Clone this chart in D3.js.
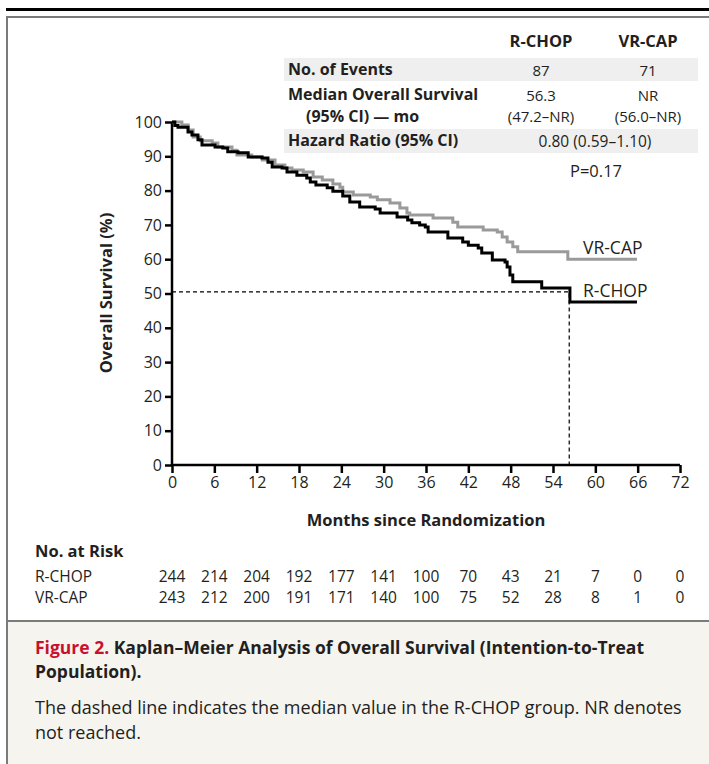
<!DOCTYPE html>
<meta charset="utf-8">
<style>
  body { margin: 0; background: #fff; }
  svg text { font-family: "Open Sans", "Noto Sans", sans-serif; fill: #231f20; }
  .b { font-weight: 700; }
</style>
<body>
<script src="https://d3js.org/d3.v7.min.js"></script>
<script>
  // step curves: [months, % surviving]
  var rchop = [
    [0, 100], [0.4, 99], [0.85, 98.5], [2.27, 97.1], [2.83, 96.2], [3.68, 94.8], [4.25, 93.3],
    [6.1, 92.7], [7.2, 92.4], [7.9, 91.3], [9.35, 91.0], [10.8, 89.8], [12.75, 89.5], [13.6, 88.3],
    [14.2, 86.9], [15.6, 86.6], [16.3, 85.4], [17.7, 84.5], [19.1, 83.7], [19.6, 82.5], [20.4, 81.6],
    [22.0, 80.8], [22.8, 79.8], [24.2, 78.4], [25.2, 76.7], [26.6, 75.2], [28.8, 74.6], [29.5, 73.5],
    [31.9, 72.3], [33.4, 71.4], [34.0, 70.6], [35.1, 70.0], [35.9, 69.4], [36.3, 67.9], [39.1, 66.2],
    [41.2, 65.0], [42.0, 64.1], [43.4, 63.3], [43.9, 61.8], [45.4, 59.8], [47.2, 59.2], [47.5, 57.7],
    [47.9, 55.4], [48.3, 53.4], [52.4, 51.6], [56.4, 47.5], [65.9, 47.5]
  ];
  var vrcap = [
    [0, 100], [1.4, 99.1], [2.3, 97.7], [3.0, 95.6], [4.0, 94.5], [5.7, 93.9], [6.5, 92.7],
    [8.5, 91.8], [9.2, 90.4], [11.3, 89.8], [12.8, 88.9], [14.6, 87.5], [16.0, 86.6], [17.0, 86.0],
    [18.6, 85.4], [20.0, 84.0], [21.3, 83.1], [22.8, 81.9], [23.8, 81.0], [24.2, 79.6], [25.7, 78.7],
    [28.1, 78.1], [29.1, 77.3], [30.9, 76.4], [32.3, 74.9], [33.3, 73.5], [33.7, 72.9], [37.0, 72.0],
    [39.8, 70.8], [40.5, 69.4], [44.1, 68.5], [46.1, 67.9], [46.8, 66.5], [47.5, 65.0], [48.3, 63.6],
    [49.0, 62.2], [56.1, 60.0], [65.9, 60.0]
  ];
  var medianRchop = 56.3, medianLevel = 50.5;

  var riskMonths = [0, 6, 12, 18, 24, 30, 36, 42, 48, 54, 60, 66, 72];
  var riskRchop = [244, 214, 204, 192, 177, 141, 100, 70, 43, 21, 7, 0, 0];
  var riskVrcap = [243, 212, 200, 191, 171, 140, 100, 75, 52, 28, 8, 1, 0];

  var groups = ["R-CHOP", "VR-CAP"];
  var tableRows = [
    { label: ["No. of Events"], vals: [["87"], ["71"]], shade: true },
    { label: ["Median Overall Survival", "(95% CI) \u2014 mo"], vals: [["56.3", "(47.2\u2013NR)"], ["NR", "(56.0\u2013NR)"]], shade: false },
    { label: ["Hazard Ratio (95% CI)"], span: "0.80 (0.59\u20131.10)", shade: true }
  ];
  var pText = "P=0.17";

  var W = 709, H = 764;
  var svg = d3.select("body").append("svg").attr("width", W).attr("height", H);

  // frame
  svg.append("rect").attr("x", 6).attr("y", 8).attr("width", W - 6).attr("height", 3).attr("fill", "#000");
  svg.append("rect").attr("x", 7).attr("y", 17).attr("width", W).attr("height", H).attr("fill", "#fff")
    .attr("stroke", "#7b7b7b").attr("stroke-width", 2);
  svg.append("rect").attr("x", 8).attr("y", 621).attr("width", W).attr("height", H - 621).attr("fill", "#f6f4ef");
  svg.append("line").attr("x1", 7).attr("x2", W).attr("y1", 621).attr("y2", 621)
    .attr("stroke", "#7b7b7b").attr("stroke-width", 2);

  var x = d3.scaleLinear().domain([0, 72]).range([172, 680]);
  var y = d3.scaleLinear().domain([0, 100]).range([465, 122]);

  // axes
  var xAxis = svg.append("g").attr("transform", "translate(0,465)")
    .call(d3.axisBottom(x).tickValues(riskMonths).tickSize(8).tickPadding(4));
  var yAxis = svg.append("g").attr("transform", "translate(172,0)")
    .call(d3.axisLeft(y).tickValues(d3.range(0, 101, 10)).tickSize(7).tickPadding(3));
  [xAxis, yAxis].forEach(function (g) {
    g.select(".domain").attr("stroke", "#000").attr("stroke-width", 2.5);
    g.selectAll(".tick line").attr("stroke", "#000").attr("stroke-width", 2.5);
    g.selectAll(".tick text").style("font-size", "16px").attr("fill", "#231f20");
  });
  xAxis.select(".domain").attr("d", "M172,0H680");
  yAxis.select(".domain").attr("d", "M0,122V465");

  // median dashes
  svg.append("path")
    .attr("d", "M" + x(0) + "," + y(medianLevel) + "H" + x(medianRchop) + "V" + y(0))
    .attr("fill", "none").attr("stroke", "#000").attr("stroke-width", 1.2).attr("stroke-dasharray", "4,3");

  var line = d3.line().x(function (d) { return x(d[0]); }).y(function (d) { return y(d[1]); })
    .curve(d3.curveStepAfter);
  svg.append("path").datum(vrcap).attr("d", line).attr("fill", "none")
    .attr("stroke", "#9a9a9a").attr("stroke-width", 3);
  svg.append("path").datum(rchop).attr("d", line).attr("fill", "none")
    .attr("stroke", "#000").attr("stroke-width", 3);

  svg.append("text").attr("x", 583).attr("y", 254).style("font-size", "17.5px").text("VR-CAP");
  svg.append("text").attr("x", 583).attr("y", 297).style("font-size", "17.5px").text("R-CHOP");

  // axis titles
  svg.append("text").attr("class", "b").attr("transform", "translate(112,293) rotate(-90)")
    .attr("text-anchor", "middle").style("font-size", "16.5px").text("Overall Survival (%)");
  svg.append("text").attr("class", "b").attr("x", 426).attr("y", 526)
    .attr("text-anchor", "middle").style("font-size", "16.5px").text("Months since Randomization");

  // summary table
  var colX = [541, 648];
  svg.selectAll(".hdr").data(groups).enter().append("text").attr("class", "b")
    .attr("x", function (d, i) { return colX[i]; }).attr("y", 47)
    .attr("text-anchor", "middle").style("font-size", "16.5px").text(function (d) { return d; });
  var rowTop = [58, 83, 129], rowH = [23, 45, 24];
  tableRows.forEach(function (r, i) {
    var g = svg.append("g");
    if (r.shade) g.append("rect").attr("x", 284).attr("y", rowTop[i]).attr("width", 414).attr("height", rowH[i]).attr("fill", "#efefef");
    r.label.forEach(function (t, j) {
      g.append("text").attr("class", "b").attr("x", j ? 306 : 288).attr("y", rowTop[i] + 17 + j * 22)
        .style("font-size", "16px").text(t);
    });
    if (r.vals) r.vals.forEach(function (col, c) {
      col.forEach(function (t, j) {
        g.append("text").attr("x", colX[c]).attr("y", rowTop[i] + 18 + j * 21)
          .attr("text-anchor", "middle").style("font-size", "15px").text(t);
      });
    });
    if (r.span) g.append("text").attr("x", 595).attr("y", rowTop[i] + 18)
      .attr("text-anchor", "middle").style("font-size", "15.5px").text(r.span);
  });
  svg.append("text").attr("x", 596).attr("y", 177).attr("text-anchor", "middle")
    .style("font-size", "16.5px").text(pText);

  // number at risk
  svg.append("text").attr("class", "b").attr("x", 35).attr("y", 557).style("font-size", "16.5px").text("No. at Risk");
  [[groups[0], riskRchop, 582], [groups[1], riskVrcap, 603]].forEach(function (r) {
    svg.append("text").attr("x", 35).attr("y", r[2]).style("font-size", "15.5px").text(r[0]);
    svg.selectAll(null).data(r[1]).enter().append("text")
      .attr("x", function (d, i) { return x(riskMonths[i]); }).attr("y", r[2])
      .attr("text-anchor", "middle").style("font-size", "15.5px").text(function (d) { return d; });
  });

  // caption
  var cap = svg.append("text").attr("class", "b").attr("x", 35).attr("y", 654).style("font-size", "17.5px");
  cap.append("tspan").style("fill", "#c8102e").text("Figure 2. ");
  cap.append("tspan").text("Kaplan\u2013Meier Analysis of Overall Survival (Intention-to-Treat");
  svg.append("text").attr("class", "b").attr("x", 35).attr("y", 678).style("font-size", "17.5px").text("Population).");
  svg.append("text").attr("x", 35).attr("y", 714).style("font-size", "18px")
    .text("The dashed line indicates the median value in the R-CHOP group. NR denotes");
  svg.append("text").attr("x", 35).attr("y", 739).style("font-size", "18px").text("not reached.");
</script>
</body>
